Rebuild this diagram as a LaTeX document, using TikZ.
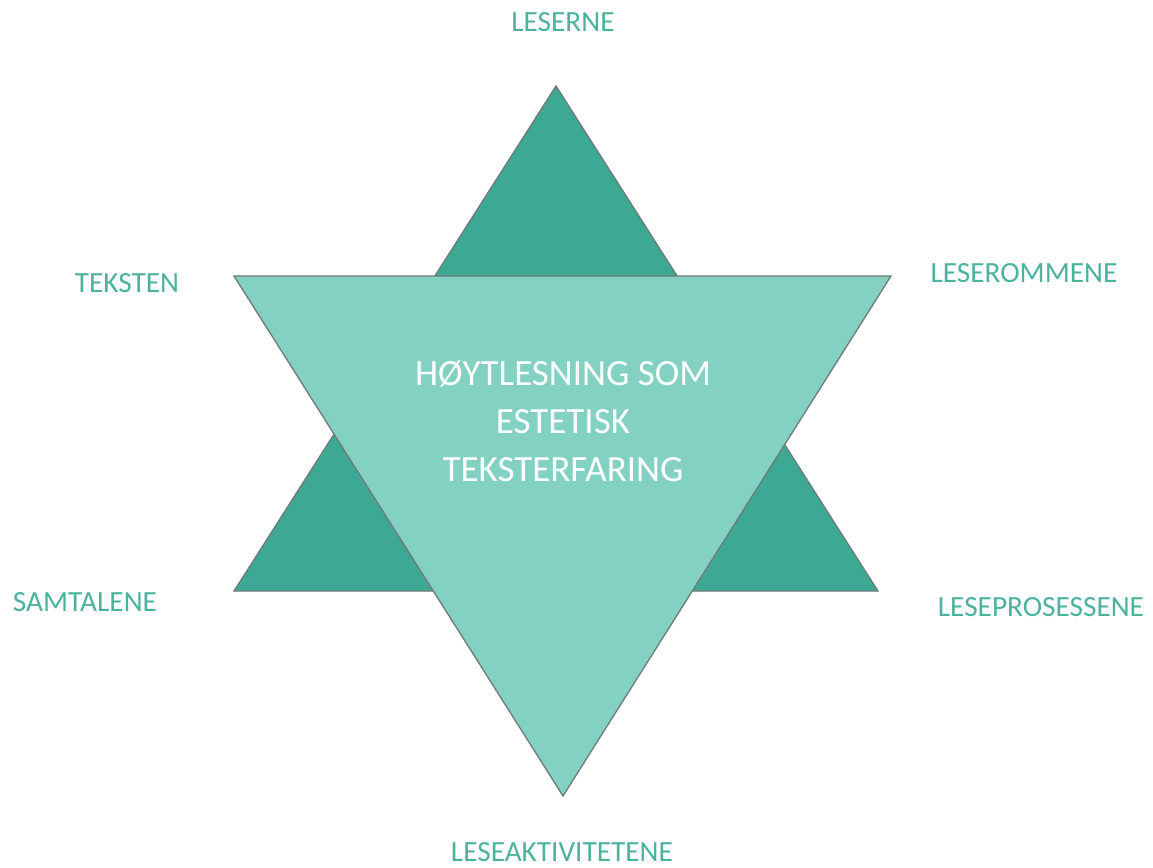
\documentclass[tikz,border=0pt]{standalone}
\usepackage{fontspec}
\setmainfont{Carlito}
\definecolor{darkteal}{HTML}{3DA995}
\definecolor{lightteal}{HTML}{83D1C3}
\definecolor{edgegray}{HTML}{6E7A77}
\definecolor{labelteal}{HTML}{4BB29D}
\begin{document}
\begin{tikzpicture}[x=1pt,y=-1pt,
  tri/.style={draw=edgegray,line width=1.3pt,line join=miter},
  lbl/.style={text=labelteal,font=\fontsize{29.3}{34}\selectfont,inner sep=0pt}]
\useasboundingbox (0,0) rectangle (1153,867);
\coordinate (uA) at (556,86);
\coordinate (uL) at (234,591);
\coordinate (uR) at (878,591);
\coordinate (dL) at (234,276);
\coordinate (dR) at (891,276);
\coordinate (dB) at (563,796);
\filldraw[tri,fill=darkteal] (uA) -- (uR) -- (uL) -- cycle;
\filldraw[tri,fill=lightteal] (dL) -- (dR) -- (dB) -- cycle;
\node[text=white,font=\fontsize{37}{48}\selectfont,align=center,inner sep=0pt] (center) at (563,421) {HØYTLESNING SOM\\ESTETISK\\TEKSTERFARING};
\node[lbl] (leserne) at (563,22) {LESERNE};
\node[lbl] (teksten) at (127,283) {TEKSTEN};
\node[lbl] (leserommene) at (1024,273) {LESEROMMENE};
\node[lbl] (samtalene) at (85,602) {SAMTALENE};
\node[lbl] (leseprosessene) at (1041,607) {LESEPROSESSENE};
\node[lbl] (leseaktivitetene) at (562,852) {LESEAKTIVITETENE};
\end{tikzpicture}
\end{document}
